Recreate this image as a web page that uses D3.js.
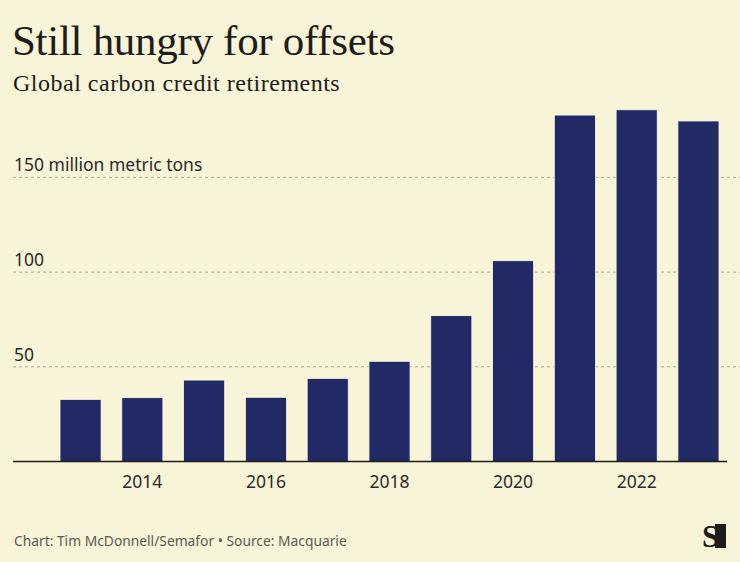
<!DOCTYPE html>
<html>
<head>
    <meta charset="utf-8">
    <title>Still hungry for offsets</title>
    <script src="https://d3js.org/d3.v7.min.js"></script>
    <style>
        body { margin: 0; background: #f8f4d8; }
        svg { display: block; }
    </style>
</head>
<body>
<div id="chart"></div>
<script>
    // data (million metric tons)
    var years = [2013, 2014, 2015, 2016, 2017, 2018, 2019, 2020, 2021, 2022, 2023];
    var retirements = [32.8, 33.7, 43.0, 33.9, 43.9, 52.9, 77.0, 106.0, 182.9, 185.7, 179.8];
    var yTicks = [50, 100, 150];
    var xTicks = [2014, 2016, 2018, 2020, 2022];

    var W = 740, H = 562;
    var bg = "#f8f4d8";

    var svg = d3.select("#chart").append("svg")
        .attr("width", W)
        .attr("height", H);

    svg.append("rect").attr("width", W).attr("height", H).attr("fill", bg);

    // scales
    var x = d3.scaleBand()
        .domain(years)
        .range([39.3, 739.7])
        .paddingInner(0.335)
        .paddingOuter(0.335);

    var y = d3.scaleLinear()
        .domain([0, 200])
        .range([461.5, 82.7]);

    // title
    svg.append("text")
        .attr("x", 12).attr("y", 55)
        .attr("font-family", "Liberation Serif, serif")
        .attr("font-size", 43)
        .attr("letter-spacing", -0.3)
        .attr("fill", "#1d1d1b")
        .text("Still hungry for offsets");

    svg.append("text")
        .attr("x", 13).attr("y", 91)
        .attr("font-family", "Liberation Serif, serif")
        .attr("font-size", 24)
        .attr("letter-spacing", 0.5)
        .attr("fill", "#1d1d1b")
        .text("Global carbon credit retirements");

    // gridlines
    svg.append("g")
        .selectAll("line")
        .data(yTicks)
        .enter()
        .append("line")
        .attr("x1", 13).attr("x2", W)
        .attr("y1", function (d) { return y(d); })
        .attr("y2", function (d) { return y(d); })
        .attr("stroke", "#a9a69a")
        .attr("stroke-width", 1)
        .attr("stroke-dasharray", "3,3");

    svg.append("g")
        .selectAll("text")
        .data(yTicks)
        .enter()
        .append("text")
        .attr("x", 14)
        .attr("y", function (d) { return y(d) - 6; })
        .attr("font-family", "Noto Sans, sans-serif")
        .attr("font-size", 17.5)
        .attr("fill", "#2a2a2a")
        .text(function (d, i) { return i == yTicks.length - 1 ? d + " million metric tons" : d; });

    // bars
    svg.append("g")
        .selectAll("rect")
        .data(years)
        .enter()
        .append("rect")
        .attr("x", function (d) { return x(d); })
        .attr("y", function (d, i) { return y(retirements[i]); })
        .attr("width", x.bandwidth())
        .attr("height", function (d, i) { return y(0) - y(retirements[i]); })
        .attr("fill", "#222a65")
        .attr("stroke", "#fbf8e6")
        .attr("stroke-width", 0.8);

    // baseline
    svg.append("line")
        .attr("x1", 13).attr("x2", 727)
        .attr("y1", y(0)).attr("y2", y(0))
        .attr("stroke", "#1d1d1b")
        .attr("stroke-width", 1.5);

    // x axis labels
    svg.append("g")
        .selectAll("text")
        .data(xTicks)
        .enter()
        .append("text")
        .attr("x", function (d) { return x(d) + x.bandwidth() / 2; })
        .attr("y", 488)
        .attr("text-anchor", "middle")
        .attr("font-family", "Noto Sans, sans-serif")
        .attr("font-size", 17.5)
        .attr("fill", "#2a2a2a")
        .text(function (d) { return d; });

    // footer
    svg.append("text")
        .attr("x", 14).attr("y", 546)
        .attr("font-family", "Noto Sans, sans-serif")
        .attr("font-size", 13.8)
        .attr("fill", "#5a5a55")
        .text("Chart: Tim McDonnell/Semafor \u2022 Source: Macquarie");

    // logo
    var logo = svg.append("g").attr("transform", "translate(702,524)");
    logo.append("rect")
        .attr("x", 13).attr("y", 0)
        .attr("width", 11).attr("height", 24)
        .attr("fill", "#1d1d1b");
    logo.append("text")
        .attr("x", 0).attr("y", 23)
        .attr("font-family", "Liberation Serif, serif")
        .attr("font-weight", "bold")
        .attr("font-size", 31)
        .attr("fill", "#1d1d1b")
        .text("S");
</script>
</body>
</html>
